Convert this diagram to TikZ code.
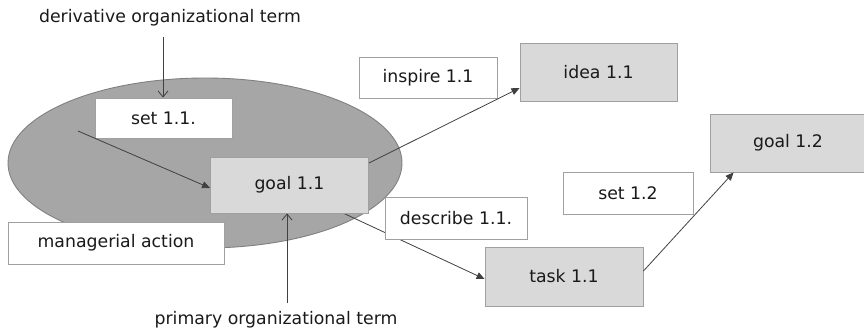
\documentclass[tikz,border=0pt]{standalone}
\usepackage{fontspec}
\setmainfont{DejaVu Sans}
\usetikzlibrary{arrows.meta,backgrounds}
\definecolor{ellfill}{HTML}{A6A6A6}
\definecolor{elldraw}{HTML}{808080}
\definecolor{boxgray}{HTML}{D9D9D9}
\definecolor{boxline}{HTML}{A0A0A0}
\definecolor{conn}{HTML}{404040}
\definecolor{txt}{HTML}{1A1A1A}
\tikzset{
  whitebox/.style={draw=boxline, line width=0.9pt, fill=white, rectangle, inner sep=0pt, text=txt},
  graybox/.style={draw=boxline, line width=0.9pt, fill=boxgray, rectangle, inner sep=0pt, text=txt},
  plain/.style={inner sep=0pt, text=txt},
  conn/.style={draw=conn, line width=0.8pt, -{Triangle[length=8pt,width=7pt]}},
  openconn/.style={draw=conn, line width=0.8pt, -{Straight Barb[length=6pt,width=10pt]}},
}
\begin{document}
\begin{tikzpicture}[x=1pt,y=-1pt, font=\fontsize{17.3}{20}\selectfont]
\useasboundingbox (0,0) rectangle (864,331);
\begin{scope}
\clip (0,0) rectangle (864,331);
% ellipse
\begin{pgfonlayer}{background}
\fill[ellfill, draw=elldraw, line width=0.9pt] (205,163) ellipse [x radius=197pt, y radius=85pt];
\end{pgfonlayer}
% nodes
\node[whitebox, minimum width=137pt, minimum height=40pt] (set11) at (163.5,118) {set 1.1.};
\node[graybox, minimum width=158pt, minimum height=56pt] (goal11) at (289.5,185) {goal 1.1};
\node[whitebox, minimum width=216pt, minimum height=42pt] (manag) at (116,243) {managerial action};
\node[whitebox, minimum width=138pt, minimum height=41pt] (inspire) at (428,77.5) {inspire 1.1};
\node[graybox, minimum width=157pt, minimum height=58pt] (idea) at (598.5,72) {idea 1.1};
\node[graybox, minimum width=156pt, minimum height=58pt] (goal12) at (788,143) {goal 1.2};
\node[whitebox, minimum width=142pt, minimum height=42pt] (describe) at (456,218) {describe 1.1.};
\node[whitebox, minimum width=130pt, minimum height=42pt] (set12) at (628,193) {set 1.2};
\node[graybox, minimum width=158pt, minimum height=59pt] (task) at (564,276.5) {task 1.1};
\node[plain] (deriv) at (170,18) {derivative organizational term};
\node[plain] (primary) at (276,320) {primary organizational term};
% free ends
\coordinate (dtop) at (163,37);
\coordinate (sstart) at (78,131);
\coordinate (pbot) at (287,303);
% connectors
\draw[openconn] (dtop) -- (dtop |- set11.north);
\draw[openconn] (pbot) -- (pbot |- goal11.south);
\draw[conn] (sstart) -- ([yshift=-3pt]goal11.west);
\draw[conn] ([yshift=22pt]goal11.east) -- ([yshift=-16pt]idea.west);
\begin{pgfonlayer}{background}
\draw[conn] ([xshift=-25pt]goal11.south east) -- ([yshift=-2.5pt]task.west);
\end{pgfonlayer}
\draw[conn] ([yshift=5.5pt]task.east) -- ([xshift=24pt]goal12.south west);
\end{scope}
\end{tikzpicture}
\end{document}
